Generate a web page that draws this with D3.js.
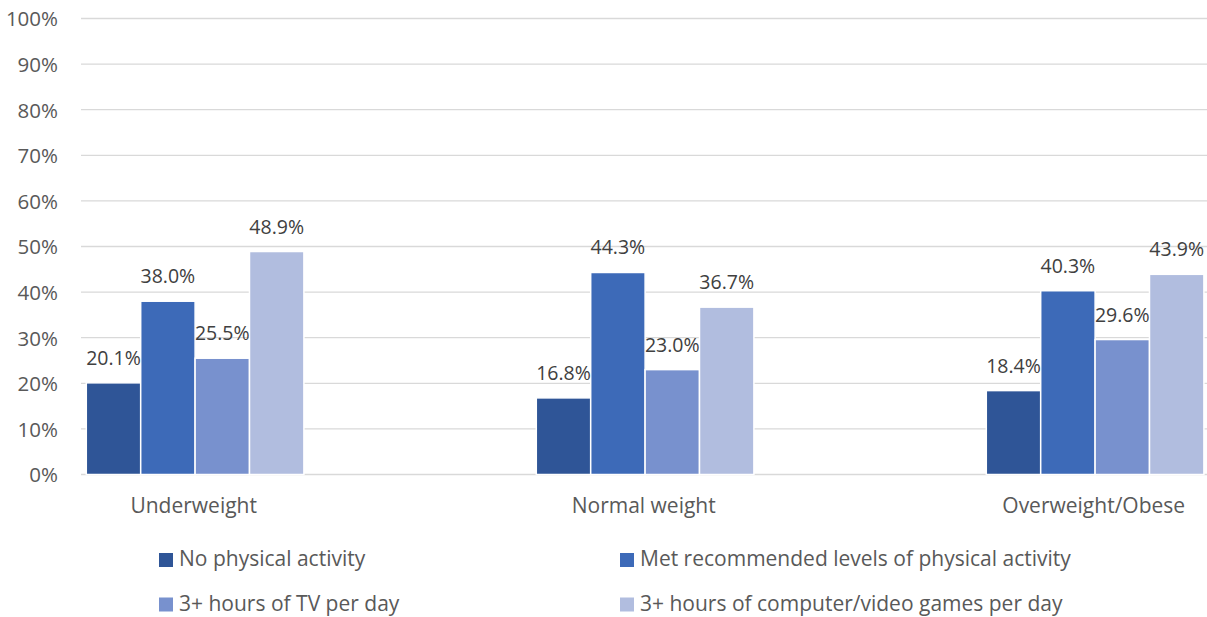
<!DOCTYPE html>
<html>
<head>
<meta charset="utf-8">
<script src="https://cdn.jsdelivr.net/npm/d3@7"></script>
<style>
  html, body { margin: 0; padding: 0; background: #fff; }
  svg { display: block; }
  text { font-family: "Open Sans", sans-serif; }
</style>
</head>
<body>
<svg id="chart" width="1207" height="617"></svg>
<script>
const categories = ["Underweight", "Normal weight", "Overweight/Obese"];
const seriesNames = [
  "No physical activity",
  "Met recommended levels of physical activity",
  "3+ hours of TV per day",
  "3+ hours of computer/video games per day"
];
const noActivity = [20.1, 16.8, 18.4];
const metRecommended = [38.0, 44.3, 40.3];
const tvHours = [25.5, 23.0, 29.6];
const gameHours = [48.9, 36.7, 43.9];
const yTicks = [0, 10, 20, 30, 40, 50, 60, 70, 80, 90, 100];
const seriesColors = ["#2F5597", "#3D6AB8", "#7891CE", "#B1BDDF"];

const seriesValues = [noActivity, metRecommended, tvHours, gameHours];

const FONT = "'Open Sans', sans-serif";
const FS_TICK = "20.5px";
const FS_NUM = "19.5px";
const FS_TXT = "21px";

const svg = d3.select("#chart");
const plotLeft = 81, plotRight = 1207, y0 = 474.5, y100 = 18.5;

const y = d3.scaleLinear().domain([0, 100]).range([y0, y100]);
const x = d3.scaleBand().domain(categories).range([-31.3, 1318.7]).padding(0);
const xs = d3.scaleBand().domain(d3.range(4)).range([117.6, 335.2]).padding(0);

// gridlines
svg.append("g").selectAll("line").data(yTicks).join("line")
  .attr("x1", plotLeft).attr("x2", plotRight)
  .attr("y1", d => y(d)).attr("y2", d => y(d))
  .attr("stroke", "#D9D9D9").attr("stroke-width", 1.3);

// y axis labels
const yAxis = d3.axisLeft(y).tickValues(yTicks).tickFormat(d => d + "%").tickSize(0).tickPadding(0);
const ya = svg.append("g").attr("transform", "translate(58,0)").call(yAxis);
ya.select(".domain").remove();
ya.selectAll("text").attr("fill", "#595959").style("font-size", FS_TICK)
  .style("font-family", FONT).attr("dy", "0.36em");

// bars
const data = [];
categories.forEach((c, ci) => {
  seriesValues.forEach((vals, si) => data.push({ c, si, v: vals[ci] }));
});

svg.append("g").selectAll("rect").data(data).join("rect")
  .attr("x", d => x(d.c) + xs(d.si))
  .attr("y", d => y(d.v))
  .attr("width", xs.bandwidth())
  .attr("height", d => y0 - y(d.v))
  .attr("fill", d => seriesColors[d.si])
  .attr("stroke", "#fff").attr("stroke-width", 1.5);

svg.append("g").selectAll("text").data(data).join("text")
  .attr("x", d => x(d.c) + xs(d.si) + xs.bandwidth() / 2)
  .attr("y", d => y(d.v) - 18)
  .attr("text-anchor", "middle")
  .attr("fill", "#404040")
  .style("font-size", FS_NUM)
  .text(d => d.v.toFixed(1) + "%");

// x axis labels
const xAxis = d3.axisBottom(x).tickSize(0).tickPadding(0);
const xa = svg.append("g").attr("transform", `translate(0,${y0})`).call(xAxis);
xa.select(".domain").remove();
xa.selectAll("text").attr("fill", "#595959").style("font-size", FS_TXT)
  .style("font-family", FONT)
  .attr("dy", null).attr("y", 38);

// legend
const legendPos = [[159, 553], [620, 553], [159, 597.5], [620, 597.5]];
const lg = svg.append("g").selectAll("g").data(seriesNames).join("g")
  .attr("transform", (d, i) => `translate(${legendPos[i][0]},${legendPos[i][1]})`);
lg.append("rect").attr("width", 14).attr("height", 14).attr("fill", (d, i) => seriesColors[i]);
lg.append("text").attr("x", 20).attr("y", 13).attr("fill", "#595959")
  .style("font-size", FS_TXT).text(d => d);
</script>
</body>
</html>
